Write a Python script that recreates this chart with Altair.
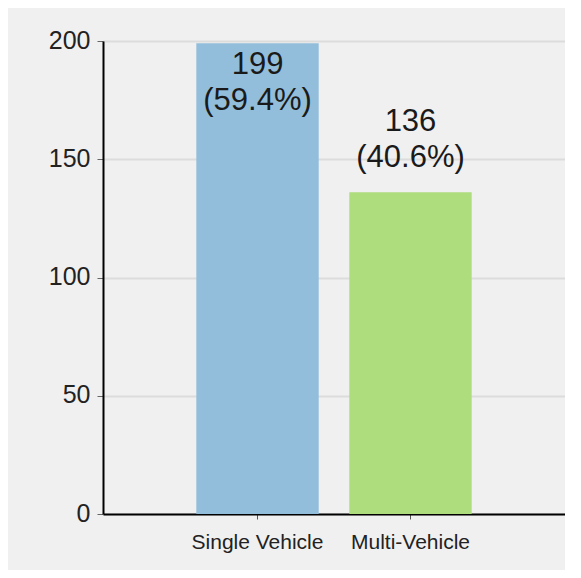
import altair as alt
import pandas as pd

categories = ["Single Vehicle", "Multi-Vehicle"]
counts = [199, 136]
bar_colors = ["#93bedb", "#addd7d"]
y_ticks = [0, 50, 100, 150, 200]

df = pd.DataFrame({"category": categories, "count": counts})

FONT = "Liberation Sans, Arial, sans-serif"
y_max = y_ticks[-1]

x_enc = alt.X(
    "category:N",
    sort=categories,
    title=None,
    scale=alt.Scale(paddingInner=0.2, paddingOuter=0.61),
    axis=alt.Axis(
        labelAngle=0,
        labelFontSize=21,
        labelFont=FONT,
        labelColor="#222222",
        labelPadding=12,
        tickSize=5,
        tickColor="#555555",
        domainColor="#000000",
        domainWidth=2,
        grid=False,
    ),
)
y_enc = alt.Y(
    "count:Q",
    title=None,
    scale=alt.Scale(domain=[0, y_max], nice=False),
    axis=alt.Axis(
        values=y_ticks,
        labelFontSize=25,
        labelFont=FONT,
        labelColor="#222222",
        labelPadding=7,
        labelOffset=-1,
        tickSize=6,
        tickColor="#666666",
        domainColor="#000000",
        domainWidth=2,
        grid=True,
        gridColor="#dcdcdc",
        gridWidth=2,
    ),
)

base = alt.Chart(df).transform_joinaggregate(
    total="sum(count)"
).transform_calculate(
    label="datum.count + '\\n(' + format(datum.count / datum.total, '.1%') + ')'"
)

bars = base.mark_bar().encode(
    x=x_enc,
    y=y_enc,
    color=alt.Color("category:N", scale=alt.Scale(domain=categories, range=bar_colors), legend=None),
)

text_props = dict(font=FONT, fontSize=31, color="#1a1a1a", lineBreak="\n", lineHeight=36, align="center")

inside = base.transform_filter(f"datum.count >= 0.85 * {y_max}").mark_text(
    baseline="top", dy=7, **text_props
).encode(x=alt.X("category:N", sort=categories), y="count:Q", text="label:N")

outside = base.transform_filter(f"datum.count < 0.85 * {y_max}").mark_text(
    baseline="bottom", dy=-54, **text_props
).encode(x=alt.X("category:N", sort=categories), y="count:Q", text="label:N")

chart = alt.layer(bars, inside, outside).properties(
    width=462,
    height=473,
    autosize=alt.AutoSizeParams(type="none"),
    padding={"left": 95, "top": 33, "right": 0, "bottom": 56},
    background="#f0f0f0",
).configure_view(stroke=None)

chart.save("out.html", embed_options={"renderer": "svg", "actions": False})
